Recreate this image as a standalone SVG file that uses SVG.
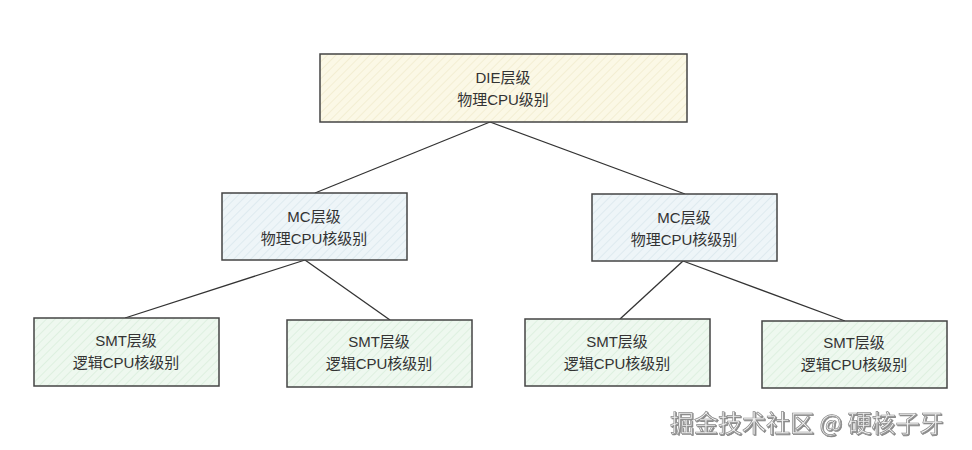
<svg xmlns="http://www.w3.org/2000/svg" width="972" height="450" viewBox="0 0 972 450">
<defs>
<pattern id="hy" width="6" height="6" patternUnits="userSpaceOnUse" patternTransform="rotate(45)">
<rect width="6" height="6" fill="#fbf8e6"/><line x1="0" y1="0" x2="0" y2="6" stroke="#ece4c0" stroke-width="1"/>
</pattern>
<pattern id="hb" width="6" height="6" patternUnits="userSpaceOnUse" patternTransform="rotate(45)">
<rect width="6" height="6" fill="#eef5f8"/><line x1="0" y1="0" x2="0" y2="6" stroke="#cfdfe6" stroke-width="1"/>
</pattern>
<pattern id="hg" width="6" height="6" patternUnits="userSpaceOnUse" patternTransform="rotate(45)">
<rect width="6" height="6" fill="#eef8ef"/><line x1="0" y1="0" x2="0" y2="6" stroke="#cfe8d2" stroke-width="1"/>
</pattern>
<filter id="sh" x="-5%" y="-20%" width="110%" height="140%">
<feDropShadow dx="1" dy="1" stdDeviation="0.6" flood-color="#555" flood-opacity="0.7"/>
</filter>
</defs>
<style>
.box{stroke:#444;stroke-width:1.5}
.t{font-family:"Liberation Sans","Noto Sans CJK SC",sans-serif;font-size:15px;fill:#333;text-anchor:middle}
.c{stroke:#333;stroke-width:1.3;fill:none}
.wm{font-family:"Noto Sans CJK SC","Liberation Sans",sans-serif;font-size:24px;fill:#f2f2f2;stroke:#8c8c8c;stroke-width:0.7}
</style>
<rect width="972" height="450" fill="#ffffff"/>
<g id="connectors">
<line class="c" x1="490" y1="122" x2="315" y2="193"/>
<line class="c" x1="490" y1="122" x2="685" y2="194"/>
<line class="c" x1="305" y1="260" x2="125" y2="318"/>
<line class="c" x1="305" y1="260" x2="390" y2="320"/>
<line class="c" x1="683" y1="261" x2="620" y2="319"/>
<line class="c" x1="683" y1="261" x2="845" y2="321"/>
</g>
<g id="die">
<rect class="box" x="320" y="54" width="367" height="68" fill="url(#hy)"/>
<text class="t" x="503" y="83">DIE层级</text>
<text class="t" x="503" y="105">物理CPU级别</text>
</g>
<g id="mc-left">
<rect class="box" x="222" y="193" width="185" height="67" fill="url(#hb)"/>
<text class="t" x="314" y="222">MC层级</text>
<text class="t" x="314" y="244">物理CPU核级别</text>
</g>
<g id="mc-right">
<rect class="box" x="592" y="194" width="185" height="67" fill="url(#hb)"/>
<text class="t" x="684" y="223">MC层级</text>
<text class="t" x="684" y="245">物理CPU核级别</text>
</g>
<g id="smt1">
<rect class="box" x="34" y="318" width="185" height="68" fill="url(#hg)"/>
<text class="t" x="126" y="346">SMT层级</text>
<text class="t" x="126" y="368">逻辑CPU核级别</text>
</g>
<g id="smt2">
<rect class="box" x="287" y="320" width="185" height="67" fill="url(#hg)"/>
<text class="t" x="379" y="347">SMT层级</text>
<text class="t" x="379" y="369">逻辑CPU核级别</text>
</g>
<g id="smt3">
<rect class="box" x="525" y="319" width="185" height="67" fill="url(#hg)"/>
<text class="t" x="617" y="347">SMT层级</text>
<text class="t" x="617" y="369">逻辑CPU核级别</text>
</g>
<g id="smt4">
<rect class="box" x="762" y="321" width="185" height="67" fill="url(#hg)"/>
<text class="t" x="854" y="348">SMT层级</text>
<text class="t" x="854" y="370">逻辑CPU核级别</text>
</g>
<text class="wm" x="670" y="432" filter="url(#sh)">掘金技术社区 @ 硬核子牙</text>
</svg>
